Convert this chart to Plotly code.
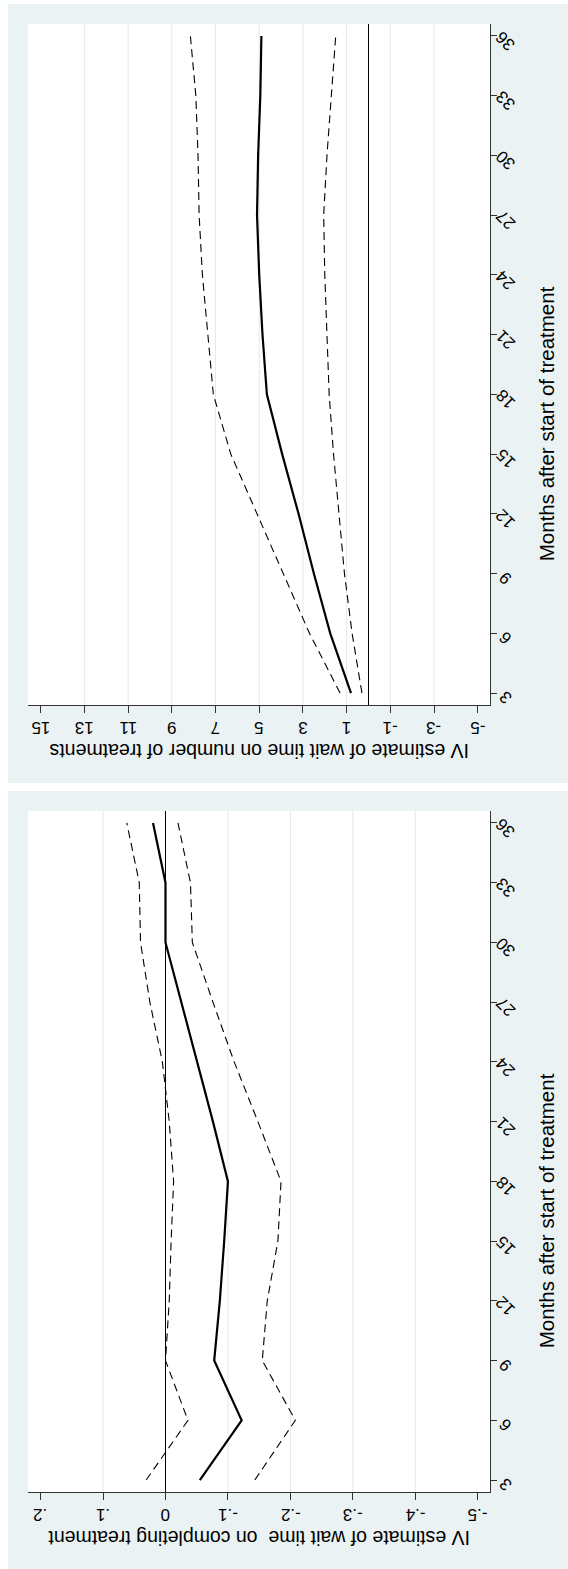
import plotly.graph_objects as go

# Months after start of treatment
months = [3, 6, 9, 12, 15, 18, 21, 24, 27, 30, 33, 36]

# IV estimate of wait time on number of treatments (point estimate and 95% CI)
num_est = [0.8, 1.75, 2.5, 3.2, 3.95, 4.65, 4.85, 5.0, 5.1, 5.05, 4.95, 4.9]
num_hi = [1.3, 2.7, 3.9, 5.1, 6.3, 7.1, 7.35, 7.6, 7.75, 7.8, 7.9, 8.15]
num_lo = [0.3, 0.75, 1.1, 1.35, 1.6, 1.8, 1.9, 2.0, 2.05, 1.9, 1.7, 1.5]

# IV estimate of wait time on completing treatment (point estimate and 95% CI)
comp_est = [-0.055, -0.122, -0.078, -0.087, -0.094, -0.100, -0.076, -0.051, -0.026, 0.000, 0.000, 0.020]
comp_hi = [0.031, -0.036, 0.000, -0.006, -0.009, -0.013, -0.006, 0.005, 0.025, 0.040, 0.042, 0.062]
comp_lo = [-0.143, -0.208, -0.155, -0.163, -0.180, -0.185, -0.148, -0.110, -0.076, -0.043, -0.040, -0.020]

# Value-axis ticks
num_ticks = [15, 13, 11, 9, 7, 5, 3, 1, -1, -3, -5]
num_ticktext = ["15", "13", "11", "9", "7", "5", "3", "1", "-1", "-3", "-5"]
comp_ticks = [0.2, 0.1, 0.0, -0.1, -0.2, -0.3, -0.4, -0.5]
comp_ticktext = [".2", ".1", "0", "-.1", "-.2", "-.3", "-.4", "-.5"]

title_num = "IV estimate of wait time on number of treatments"
title_comp = "IV estimate of wait time  on completing treatment"
title_months = "Months after start of treatment"

W, H = 568, 1569
FONT = "Liberation Sans, Arial, sans-serif"
NARROW = "Liberation Sans Narrow, Arial Narrow, Liberation Sans, sans-serif"
BG = "#eaf2f3"
GRID = "#e1eaec"
AXIS = "#333333"


def px_x(p):
    return p / W


def px_y(p):
    return 1 - p / H


# pixel layout of the two panels
panels = [
    dict(bg=(8, 568, 4, 783), plot=(28, 490, 24, 705), xa="x", ya="y",
         ticks=num_ticks, ticktext=num_ticktext, title=title_num),
    dict(bg=(8, 568, 791, 1569), plot=(28, 490, 811, 1492), xa="x2", ya="y2",
         ticks=comp_ticks, ticktext=comp_ticktext, title=title_comp),
]

fig = go.Figure()

series = [
    ("x", "y", num_est, num_hi, num_lo),
    ("x2", "y2", comp_est, comp_hi, comp_lo),
]
for xa, ya, est, hi, lo in series:
    for vals in (hi, lo):
        fig.add_trace(go.Scatter(x=vals, y=months, xaxis=xa, yaxis=ya, mode="lines",
                                 line=dict(color="black", width=1.1, dash="8px,5px"),
                                 showlegend=False, hoverinfo="skip"))
    fig.add_trace(go.Scatter(x=est, y=months, xaxis=xa, yaxis=ya, mode="lines",
                             line=dict(color="black", width=2.2),
                             showlegend=False, hoverinfo="skip"))

shapes = []
annotations = []
for pn in panels:
    bx0, bx1, by0, by1 = pn["bg"]
    shapes.append(dict(type="rect", xref="paper", yref="paper", layer="below",
                       x0=px_x(bx0), x1=px_x(bx1), y0=px_y(by1), y1=px_y(by0),
                       fillcolor=BG, line=dict(width=0)))
    px0, px1, py0, py1 = pn["plot"]
    shapes.append(dict(type="rect", xref="paper", yref="paper", layer="below",
                       x0=px_x(px0), x1=px_x(px1), y0=px_y(py1), y1=px_y(py0),
                       fillcolor="white", line=dict(width=0)))

    # grid lines at interior value ticks (zero gets the reference line instead)
    for t in pn["ticks"][1:-1]:
        if t == 0:
            continue
        shapes.append(dict(type="line", xref=pn["xa"], yref=pn["ya"] + " domain",
                           x0=t, x1=t, y0=0, y1=1, layer="below",
                           line=dict(color=GRID, width=1)))

    # value tick labels, upside down below the horizontal axis
    for t, lab in zip(pn["ticks"], pn["ticktext"]):
        annotations.append(dict(text=lab, xref=pn["xa"], yref="paper",
                                x=t, y=px_y(py1 + 23), xanchor="center", yanchor="middle",
                                showarrow=False, textangle=180,
                                font=dict(family=FONT, size=17, color="black")))

    # month tick labels on the right-hand axis
    for m in months:
        annotations.append(dict(text=str(m), xref="paper", yref=pn["ya"],
                                x=px_x(506), y=m, yshift=-5, xanchor="center", yanchor="middle",
                                showarrow=False, textangle=-135,
                                font=dict(family=FONT, size=17, color="black")))

    # axis titles
    annotations.append(dict(text=pn["title"], xref="paper", yref="paper",
                            x=px_x((px0 + px1) / 2), y=px_y(py1 + 46),
                            xanchor="center", yanchor="middle",
                            showarrow=False, textangle=180,
                            font=dict(family=FONT, size=19.5, color="black")))
    annotations.append(dict(text=title_months, xref="paper", yref=pn["ya"],
                            x=px_x(546), y=16.5, xanchor="center", yanchor="middle",
                            showarrow=False, textangle=-90,
                            font=dict(family=NARROW, size=20.5, color="black")))


def val_axis(domain, rng, ticks, anchor):
    return dict(domain=domain, range=rng, anchor=anchor, tickmode="array",
                tickvals=ticks, showticklabels=False,
                ticks="outside", ticklen=7, tickcolor=AXIS, tickwidth=1,
                showline=True, linecolor=AXIS, linewidth=1,
                showgrid=False, zeroline=True, zerolinecolor="black", zerolinewidth=1)


def month_axis(domain, anchor):
    return dict(domain=domain, range=[2.4, 36.6], anchor=anchor, side="right",
                tickmode="array", tickvals=months, showticklabels=False,
                ticks="outside", ticklen=6, tickcolor=AXIS, tickwidth=1,
                showline=True, linecolor=AXIS, linewidth=1, showgrid=False, zeroline=False)


p0, p1 = panels[0]["plot"], panels[1]["plot"]
xdom = [px_x(p0[0]), px_x(p0[1])]

fig.update_layout(
    width=W, height=H,
    margin=dict(l=0, r=0, t=0, b=0),
    paper_bgcolor="white", plot_bgcolor="rgba(0,0,0,0)",
    xaxis=val_axis(xdom, [15.58, -5.56], num_ticks, "y"),
    yaxis=month_axis([px_y(p0[3]), px_y(p0[2])], "x"),
    xaxis2=val_axis(xdom, [0.2202, -0.5197], comp_ticks, "y2"),
    yaxis2=month_axis([px_y(p1[3]), px_y(p1[2])], "x2"),
    shapes=shapes,
    annotations=annotations,
    showlegend=False,
)

fig.write_html("out.html")
